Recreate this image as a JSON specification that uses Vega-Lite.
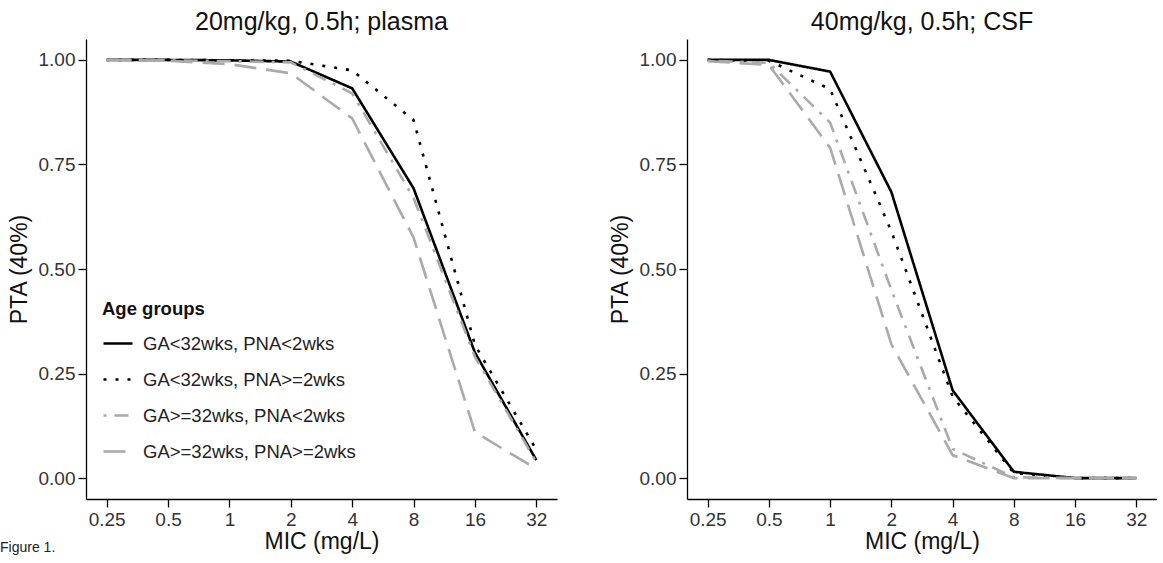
{
  "$schema": "https://vega.github.io/schema/vega-lite/v6.json",
  "padding": {"left": 0, "top": 10, "right": 0, "bottom": 0},
  "background": "white",
  "title": {"text": "Figure 1.", "orient": "bottom", "anchor": "start", "frame": "bounds", "dx": -8, "dy": -16, "fontSize": 14, "fontWeight": "normal", "font": "Liberation Sans", "color": "#222"},
  "data": {"values": [
    {"panel": "plasma", "mic": 0.25, "group": "GA<32wks, PNA<2wks", "pta": 1.0},
    {"panel": "plasma", "mic": 0.5, "group": "GA<32wks, PNA<2wks", "pta": 1.0},
    {"panel": "plasma", "mic": 1, "group": "GA<32wks, PNA<2wks", "pta": 0.999},
    {"panel": "plasma", "mic": 2, "group": "GA<32wks, PNA<2wks", "pta": 0.996},
    {"panel": "plasma", "mic": 4, "group": "GA<32wks, PNA<2wks", "pta": 0.932},
    {"panel": "plasma", "mic": 8, "group": "GA<32wks, PNA<2wks", "pta": 0.693},
    {"panel": "plasma", "mic": 16, "group": "GA<32wks, PNA<2wks", "pta": 0.30},
    {"panel": "plasma", "mic": 32, "group": "GA<32wks, PNA<2wks", "pta": 0.043},
    {"panel": "plasma", "mic": 0.25, "group": "GA<32wks, PNA>=2wks", "pta": 1.0},
    {"panel": "plasma", "mic": 0.5, "group": "GA<32wks, PNA>=2wks", "pta": 1.0},
    {"panel": "plasma", "mic": 1, "group": "GA<32wks, PNA>=2wks", "pta": 0.999},
    {"panel": "plasma", "mic": 2, "group": "GA<32wks, PNA>=2wks", "pta": 0.998},
    {"panel": "plasma", "mic": 4, "group": "GA<32wks, PNA>=2wks", "pta": 0.975},
    {"panel": "plasma", "mic": 8, "group": "GA<32wks, PNA>=2wks", "pta": 0.856},
    {"panel": "plasma", "mic": 16, "group": "GA<32wks, PNA>=2wks", "pta": 0.318},
    {"panel": "plasma", "mic": 32, "group": "GA<32wks, PNA>=2wks", "pta": 0.068},
    {"panel": "plasma", "mic": 0.25, "group": "GA>=32wks, PNA<2wks", "pta": 1.0},
    {"panel": "plasma", "mic": 0.5, "group": "GA>=32wks, PNA<2wks", "pta": 0.999},
    {"panel": "plasma", "mic": 1, "group": "GA>=32wks, PNA<2wks", "pta": 0.997},
    {"panel": "plasma", "mic": 2, "group": "GA>=32wks, PNA<2wks", "pta": 0.994},
    {"panel": "plasma", "mic": 4, "group": "GA>=32wks, PNA<2wks", "pta": 0.92},
    {"panel": "plasma", "mic": 8, "group": "GA>=32wks, PNA<2wks", "pta": 0.67},
    {"panel": "plasma", "mic": 16, "group": "GA>=32wks, PNA<2wks", "pta": 0.29},
    {"panel": "plasma", "mic": 32, "group": "GA>=32wks, PNA<2wks", "pta": 0.038},
    {"panel": "plasma", "mic": 0.25, "group": "GA>=32wks, PNA>=2wks", "pta": 1.0},
    {"panel": "plasma", "mic": 0.5, "group": "GA>=32wks, PNA>=2wks", "pta": 0.998},
    {"panel": "plasma", "mic": 1, "group": "GA>=32wks, PNA>=2wks", "pta": 0.99},
    {"panel": "plasma", "mic": 2, "group": "GA>=32wks, PNA>=2wks", "pta": 0.968},
    {"panel": "plasma", "mic": 4, "group": "GA>=32wks, PNA>=2wks", "pta": 0.86},
    {"panel": "plasma", "mic": 8, "group": "GA>=32wks, PNA>=2wks", "pta": 0.575},
    {"panel": "plasma", "mic": 16, "group": "GA>=32wks, PNA>=2wks", "pta": 0.11},
    {"panel": "plasma", "mic": 32, "group": "GA>=32wks, PNA>=2wks", "pta": 0.022},
    {"panel": "csf", "mic": 0.25, "group": "GA<32wks, PNA<2wks", "pta": 1.0},
    {"panel": "csf", "mic": 0.5, "group": "GA<32wks, PNA<2wks", "pta": 1.0},
    {"panel": "csf", "mic": 1, "group": "GA<32wks, PNA<2wks", "pta": 0.972},
    {"panel": "csf", "mic": 2, "group": "GA<32wks, PNA<2wks", "pta": 0.684},
    {"panel": "csf", "mic": 4, "group": "GA<32wks, PNA<2wks", "pta": 0.21},
    {"panel": "csf", "mic": 8, "group": "GA<32wks, PNA<2wks", "pta": 0.015},
    {"panel": "csf", "mic": 16, "group": "GA<32wks, PNA<2wks", "pta": 0.0},
    {"panel": "csf", "mic": 32, "group": "GA<32wks, PNA<2wks", "pta": 0.0},
    {"panel": "csf", "mic": 0.25, "group": "GA<32wks, PNA>=2wks", "pta": 1.0},
    {"panel": "csf", "mic": 0.5, "group": "GA<32wks, PNA>=2wks", "pta": 0.998},
    {"panel": "csf", "mic": 1, "group": "GA<32wks, PNA>=2wks", "pta": 0.93},
    {"panel": "csf", "mic": 2, "group": "GA<32wks, PNA>=2wks", "pta": 0.59},
    {"panel": "csf", "mic": 4, "group": "GA<32wks, PNA>=2wks", "pta": 0.195},
    {"panel": "csf", "mic": 8, "group": "GA<32wks, PNA>=2wks", "pta": 0.012},
    {"panel": "csf", "mic": 16, "group": "GA<32wks, PNA>=2wks", "pta": 0.0},
    {"panel": "csf", "mic": 32, "group": "GA<32wks, PNA>=2wks", "pta": 0.0},
    {"panel": "csf", "mic": 0.25, "group": "GA>=32wks, PNA<2wks", "pta": 0.998},
    {"panel": "csf", "mic": 0.5, "group": "GA>=32wks, PNA<2wks", "pta": 0.993},
    {"panel": "csf", "mic": 1, "group": "GA>=32wks, PNA<2wks", "pta": 0.85},
    {"panel": "csf", "mic": 2, "group": "GA>=32wks, PNA<2wks", "pta": 0.45},
    {"panel": "csf", "mic": 4, "group": "GA>=32wks, PNA<2wks", "pta": 0.07},
    {"panel": "csf", "mic": 8, "group": "GA>=32wks, PNA<2wks", "pta": 0.002},
    {"panel": "csf", "mic": 16, "group": "GA>=32wks, PNA<2wks", "pta": 0.0},
    {"panel": "csf", "mic": 32, "group": "GA>=32wks, PNA<2wks", "pta": 0.0},
    {"panel": "csf", "mic": 0.25, "group": "GA>=32wks, PNA>=2wks", "pta": 0.997},
    {"panel": "csf", "mic": 0.5, "group": "GA>=32wks, PNA>=2wks", "pta": 0.988},
    {"panel": "csf", "mic": 1, "group": "GA>=32wks, PNA>=2wks", "pta": 0.79},
    {"panel": "csf", "mic": 2, "group": "GA>=32wks, PNA>=2wks", "pta": 0.32},
    {"panel": "csf", "mic": 4, "group": "GA>=32wks, PNA>=2wks", "pta": 0.055},
    {"panel": "csf", "mic": 8, "group": "GA>=32wks, PNA>=2wks", "pta": 0.0},
    {"panel": "csf", "mic": 16, "group": "GA>=32wks, PNA>=2wks", "pta": 0.0},
    {"panel": "csf", "mic": 32, "group": "GA>=32wks, PNA>=2wks", "pta": 0.0}
  ]},
  "spacing": 130,
  "bounds": "flush",
  "hconcat": [
    {
      "width": 471,
      "height": 460,
      "title": {"text": "20mg/kg, 0.5h; plasma"},
      "transform": [{"filter": "datum.panel === 'plasma'"}],
      "mark": {"type": "line", "strokeWidth": 2.6, "strokeCap": "butt"},
      "encoding": {
        "x": {"field": "mic", "type": "quantitative", "scale": {"type": "log", "base": 2, "domain": [0.1979, 40.42], "nice": false, "zero": false},
              "axis": {"title": "MIC (mg/L)", "values": [0.25, 0.5, 1, 2, 4, 8, 16, 32], "format": "~g"}},
        "y": {"field": "pta", "type": "quantitative", "scale": {"domain": [-0.05, 1.05], "nice": false, "zero": false},
              "axis": {"title": "PTA (40%)", "values": [0, 0.25, 0.5, 0.75, 1], "format": ".2f"}},
        "color": {"field": "group", "type": "nominal", "title": "Age groups",
                  "scale": {"domain": ["GA<32wks, PNA<2wks", "GA<32wks, PNA>=2wks", "GA>=32wks, PNA<2wks", "GA>=32wks, PNA>=2wks"], "range": ["#000000", "#000000", "#aaaaaa", "#aaaaaa"]}},
        "strokeDash": {"field": "group", "type": "nominal", "title": "Age groups",
                  "scale": {"domain": ["GA<32wks, PNA<2wks", "GA<32wks, PNA>=2wks", "GA>=32wks, PNA<2wks", "GA>=32wks, PNA>=2wks"], "range": [[1, 0], [3, 9], [3, 8, 14, 8], [22, 10]]}}
      }
    },
    {
      "width": 470,
      "height": 460,
      "title": {"text": "40mg/kg, 0.5h; CSF"},
      "transform": [{"filter": "datum.panel === 'csf'"}],
      "mark": {"type": "line", "strokeWidth": 2.6, "strokeCap": "butt"},
      "encoding": {
        "x": {"field": "mic", "type": "quantitative", "scale": {"type": "log", "base": 2, "domain": [0.1979, 40.42], "nice": false, "zero": false},
              "axis": {"title": "MIC (mg/L)", "values": [0.25, 0.5, 1, 2, 4, 8, 16, 32], "format": "~g"}},
        "y": {"field": "pta", "type": "quantitative", "scale": {"domain": [-0.05, 1.05], "nice": false, "zero": false},
              "axis": {"title": "PTA (40%)", "values": [0, 0.25, 0.5, 0.75, 1], "format": ".2f"}},
        "color": {"field": "group", "type": "nominal", "title": "Age groups",
                  "scale": {"domain": ["GA<32wks, PNA<2wks", "GA<32wks, PNA>=2wks", "GA>=32wks, PNA<2wks", "GA>=32wks, PNA>=2wks"], "range": ["#000000", "#000000", "#aaaaaa", "#aaaaaa"]}},
        "strokeDash": {"field": "group", "type": "nominal", "title": "Age groups",
                  "scale": {"domain": ["GA<32wks, PNA<2wks", "GA<32wks, PNA>=2wks", "GA>=32wks, PNA<2wks", "GA>=32wks, PNA>=2wks"], "range": [[1, 0], [3, 9], [3, 8, 14, 8], [22, 10]]}}
      }
    }
  ],
  "resolve": {"scale": {"x": "independent", "y": "independent"}},
  "config": {
    "font": "Liberation Sans",
    "view": {"stroke": null},
    "title": {"fontSize": 25, "fontWeight": "normal", "color": "#111", "offset": 4, "anchor": "middle", "font": "Liberation Sans"},
    "axis": {
      "grid": false,
      "domainColor": "#000",
      "domainWidth": 1.3,
      "tickColor": "#000",
      "tickWidth": 1.3,
      "tickSize": 8,
      "labelFontSize": 19,
      "labelColor": "#333",
      "labelPadding": 3,
      "labelFont": "Liberation Sans",
      "titleFont": "Liberation Sans",
      "titleFontSize": 23,
      "titleFontWeight": "normal",
      "titleColor": "#111"
    },
    "axisX": {"titlePadding": 1, "labelFlush": false},
    "axisY": {"titlePadding": 7, "labelFlush": false},
    "legend": {
      "orient": "none",
      "legendX": 16,
      "legendY": 261,
      "padding": 0,
      "titleFontSize": 18.5,
      "titleFontWeight": "bold",
      "titleColor": "#111",
      "titlePadding": 9,
      "labelFontSize": 18.5,
      "labelColor": "#222",
      "labelLimit": 400,
      "labelOffset": 9,
      "symbolType": "stroke",
      "symbolSize": 841,
      "symbolStrokeWidth": 2.6,
      "rowPadding": 10,
      "titleFont": "Liberation Sans",
      "labelFont": "Liberation Sans"
    }
  }
}
